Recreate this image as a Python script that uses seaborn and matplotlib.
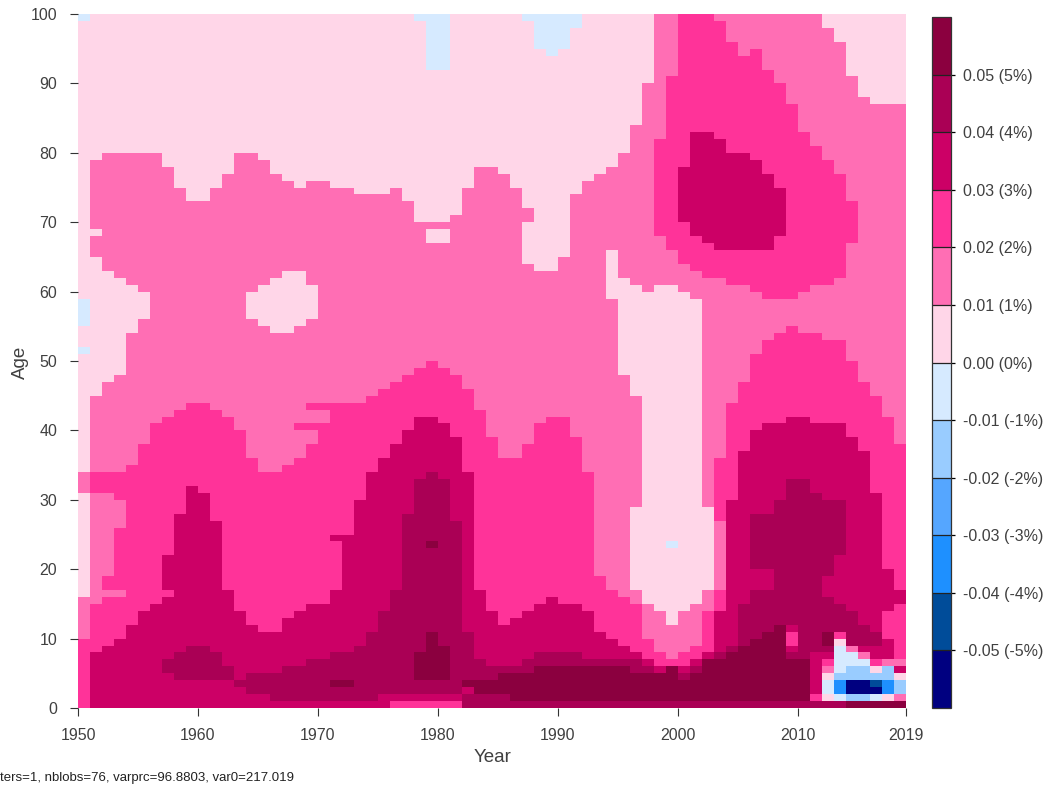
import numpy as np
import pandas as pd
import seaborn as sns
import matplotlib.pyplot as plt
from matplotlib.colors import ListedColormap, BoundaryNorm

plt.rcParams['font.family'] = ['Liberation Sans', 'DejaVu Sans']

TEXT_COL = "#404040"

# bands run from -6 (below -5%) to 5 (above 5%), band b covers b% .. (b+1)%
band_colors = ["#000080", "#004C99", "#1E90FF", "#55A6FF", "#99CCFF", "#D6EAFF",
               "#FFD6E8", "#FF6EB4", "#FF3399", "#CC0066", "#AA0055", "#8B003F"]
band_edges = [-0.06, -0.05, -0.04, -0.03, -0.02, -0.01, 0.0, 0.01, 0.02, 0.03, 0.04, 0.05, 0.06]
cbar_ticks = [0.05, 0.04, 0.03, 0.02, 0.01, 0.0, -0.01, -0.02, -0.03, -0.04, -0.05]
cbar_labels = ["0.05 (5%)", "0.04 (4%)", "0.03 (3%)", "0.02 (2%)", "0.01 (1%)", "0.00 (0%)",
               "-0.01 (-1%)", "-0.02 (-2%)", "-0.03 (-3%)", "-0.04 (-4%)", "-0.05 (-5%)"]
year_ticks = [1950, 1960, 1970, 1980, 1990, 2000, 2010, 2019]
age_ticks = [0, 10, 20, 30, 40, 50, 60, 70, 80, 90, 100]

# one string per year, "band:top_age" from age 0 upwards
runs_1950s = [
    "2:10 1:16 0:31 1:34 0:51 -1:52 0:55 -1:59 0:99 -1:100",
    "3:8 2:15 1:31 2:34 1:45 0:65 1:68 0:69 1:79 0:100",
    "3:9 2:16 1:17 2:19 1:31 2:34 1:47 0:63 1:80 0:100",
    "3:10 2:16 1:17 2:26 1:30 2:34 1:48 0:62 1:80 0:100",
    "3:12 2:35 1:54 0:61 1:80 0:100",
    "3:14 2:38 1:56 0:60 1:80 0:100",
    "3:15 2:41 1:80 0:100",
    "3:5 4:7 3:16 2:17 3:22 2:42 1:78 0:100",
    "3:4 4:8 3:28 2:43 1:75 0:100",
    "3:4 4:9 3:32 2:44 1:73 0:100",
]
runs_1960s = [
    "3:4 4:9 3:31 2:44 1:73 0:100",
    "3:4 4:8 3:27 2:43 1:75 0:100",
    "3:4 4:6 3:17 2:42 1:77 0:100",
    "3:3 4:4 3:14 2:40 1:80 0:100",
    "3:2 4:5 3:12 2:36 1:56 0:60 1:80 0:100",
    "3:2 4:5 3:11 2:34 1:55 0:61 1:79 0:100",
    "3:1 4:5 3:11 2:34 1:54 0:62 1:77 0:100",
    "3:1 4:6 3:13 2:35 1:54 0:63 1:76 0:100",
    "3:1 4:6 3:14 2:36 1:40 2:41 1:55 0:63 1:75 0:100",
    "3:1 4:7 3:15 2:38 1:40 2:41 1:43 2:44 1:56 0:61 1:76 0:100",
]
runs_1970s = [
    "3:1 4:7 3:15 2:41 1:43 2:44 1:76 0:100",
    "3:1 4:3 5:4 4:8 3:17 2:24 3:25 2:44 1:75 0:100",
    "3:1 4:3 5:4 4:8 3:25 2:44 1:75 0:100",
    "3:1 4:9 3:30 2:44 1:74 0:100",
    "3:1 4:11 3:34 2:45 1:74 0:100",
    "3:2 4:14 3:36 2:46 1:74 0:100",
    "2:1 3:2 4:17 3:38 2:47 1:75 0:100",
    "2:1 3:2 4:28 3:40 2:48 1:73 0:100",
    "2:1 3:2 4:4 5:8 4:33 3:42 2:49 1:70 0:99 -1:100",
    "2:1 3:2 4:4 5:11 4:23 5:24 4:34 3:42 2:50 1:67 0:69 1:70 0:92 -1:100",
]
runs_1980s = [
    "2:1 3:2 4:4 5:9 4:33 3:41 2:49 1:67 0:69 1:70 0:92 -1:100",
    "2:1 3:2 4:27 3:39 2:48 1:71 0:100",
    "4:2 3:3 5:4 4:11 3:34 2:46 1:75 0:100",
    "4:2 5:4 4:7 3:17 2:43 1:78 0:100",
    "4:2 5:4 4:6 3:14 2:39 1:78 0:100",
    "4:2 5:5 4:6 3:12 2:36 1:77 0:100",
    "4:1 5:5 4:6 3:13 2:36 1:75 0:100",
    "4:1 5:5 4:7 3:14 2:38 1:64 0:70 1:72 0:99 -1:100",
    "4:1 5:6 4:8 3:15 2:41 1:63 0:95 -1:100",
    "4:1 5:6 4:8 3:16 2:42 1:63 0:94 -1:100",
]
runs_1990s = [
    "4:1 5:6 4:8 3:15 2:42 1:65 0:95 -1:100",
    "4:1 5:6 4:8 3:15 2:39 1:74 0:98 -1:100",
    "4:1 5:6 4:7 3:14 2:34 1:76 0:100",
    "4:1 5:6 4:7 3:11 2:19 1:77 0:100",
    "4:1 5:6 4:7 3:10 2:17 1:59 0:66 1:78 0:100",
    "4:1 5:6 4:7 3:9 2:16 1:48 0:62 1:80 0:100",
    "4:1 5:5 4:7 3:8 2:15 1:17 0:29 1:45 0:61 1:84 0:100",
    "4:1 5:5 4:6 3:7 2:10 1:15 0:60 1:90 0:100",
    "4:1 5:5 3:6 2:8 1:14 0:61 1:68 2:82 1:100",
    "4:1 5:6 2:7 1:12 0:23 -1:24 0:61 1:66 2:91 1:100",
]
runs_2000s = [
    "4:1 5:4 4:5 3:6 2:8 1:14 0:60 1:64 2:70 3:78 2:100",
    "4:1 5:5 4:6 3:7 2:9 1:15 0:59 1:63 2:68 3:83 2:100",
    "4:1 5:7 3:8 2:14 1:17 0:29 1:62 2:67 3:83 2:100",
    "4:1 5:7 4:8 3:14 2:17 1:27 2:36 1:62 2:66 3:82 2:99 1:100",
    "4:1 5:8 4:9 3:30 2:44 1:61 2:66 3:80 2:96 1:100",
    "4:1 5:9 4:15 3:37 2:47 1:61 2:66 3:80 2:94 1:100",
    "4:1 5:10 4:17 3:20 4:28 3:40 2:51 1:60 2:66 3:79 2:95 1:100",
    "4:1 5:11 4:17 3:20 4:28 3:41 2:53 1:59 2:66 3:77 2:92 1:100",
    "4:1 5:12 4:30 3:41 2:54 1:59 2:68 3:75 2:90 1:100",
    "4:1 5:7 4:8 3:9 2:11 3:12 4:33 3:42 2:55 1:59 2:87 1:100",
]
runs_2010s = [
    "4:1 5:7 4:33 3:42 2:54 1:60 2:83 1:100",
    "4:1 2:2 3:8 4:31 3:41 2:54 1:61 2:81 1:100",
    "4:1 0:2 -1:4 0:5 1:6 2:7 3:8 4:9 5:11 4:16 3:19 4:30 3:41 2:53 1:61 2:79 1:98 0:100",
    "4:1 -1:2 -4:4 -2:5 -1:9 0:10 2:11 4:15 3:22 4:30 3:41 2:53 1:62 2:77 1:96 0:100",
    "5:1 -2:2 -6:4 -2:6 -1:8 1:9 4:14 3:39 2:50 1:67 2:73 1:91 0:100",
    "5:1 -2:2 -6:4 -2:6 -1:7 1:8 3:9 4:12 3:37 2:47 1:88 0:100",
    "5:1 -1:2 -6:3 -5:4 -2:5 0:6 2:7 3:9 4:11 3:31 2:45 1:87 0:100",
    "5:1 0:2 -4:4 -2:6 1:7 3:10 2:14 3:20 2:42 1:87 0:100",
    "5:1 1:2 -2:4 0:5 3:6 1:7 2:15 3:17 2:38 1:87 0:100",
]


def column_values(runs):
    col = np.zeros(100)
    bottom = 0
    for item in runs.split():
        band, top = item.split(":")
        col[bottom:int(top)] = (int(band) + 0.5) / 100
        bottom = int(top)
    return col


all_runs = runs_1950s + runs_1960s + runs_1970s + runs_1980s + runs_1990s + runs_2000s + runs_2010s
years = list(range(1950, 1950 + len(all_runs)))
df = pd.DataFrame({y: column_values(r) for y, r in zip(years, all_runs)}, index=range(100))

W, H = 1051, 789
fig = plt.figure(figsize=(W / 100, H / 100), dpi=100)
ax = fig.add_axes([78 / W, 1 - 708 / H, (905.5 - 78) / W, (708 - 14) / H])
cax = fig.add_axes([932 / W, 1 - 708 / H, (951 - 932) / W, (708 - 17) / H])

sns.heatmap(df, ax=ax, cmap=ListedColormap(band_colors), norm=BoundaryNorm(band_edges, len(band_colors)),
            xticklabels=False, yticklabels=False, cbar_ax=cax,
            cbar_kws={"ticks": cbar_ticks, "drawedges": True})
ax.invert_yaxis()

ax.set_xticks([y - 1950 for y in year_ticks])
ax.set_xticklabels(year_ticks, fontsize=11.5, color=TEXT_COL)
ax.set_yticks(age_ticks)
ax.set_yticklabels(age_ticks, fontsize=11.5, color=TEXT_COL, rotation=0)
ax.tick_params(axis="x", length=5.5, width=0.8, color="#333333", pad=9)
ax.tick_params(axis="y", length=5.5, width=0.8, color="#333333", pad=9.5)
ax.set_xlabel("")
ax.set_ylabel("")

cbar = ax.collections[0].colorbar
cbar.ax.set_yticklabels(cbar_labels, fontsize=11.5, color=TEXT_COL)
cbar.ax.minorticks_off()
cbar.ax.tick_params(length=3, width=0.9, color="black", pad=5.5)
cbar.outline.set_visible(True)
cbar.outline.set_edgecolor("#333333")
cbar.outline.set_linewidth(0.9)
cbar.dividers.set_color("#222222")
cbar.dividers.set_linewidth(0.9)

fig.text(493 / W, 1 - 757.5 / H, "Year", fontsize=13.5, color=TEXT_COL, ha="center", va="center")
fig.text(20 / W, 1 - 362 / H, "Age", fontsize=13.5, color=TEXT_COL, ha="center", va="center", rotation=90)
fig.text(0, 1 - 778 / H, "ters=1, nblobs=76, varprc=96.8803, var0=217.019", fontsize=9.5, color="#222222",
         ha="left", va="center")

plt.savefig("out.png", dpi=100)
